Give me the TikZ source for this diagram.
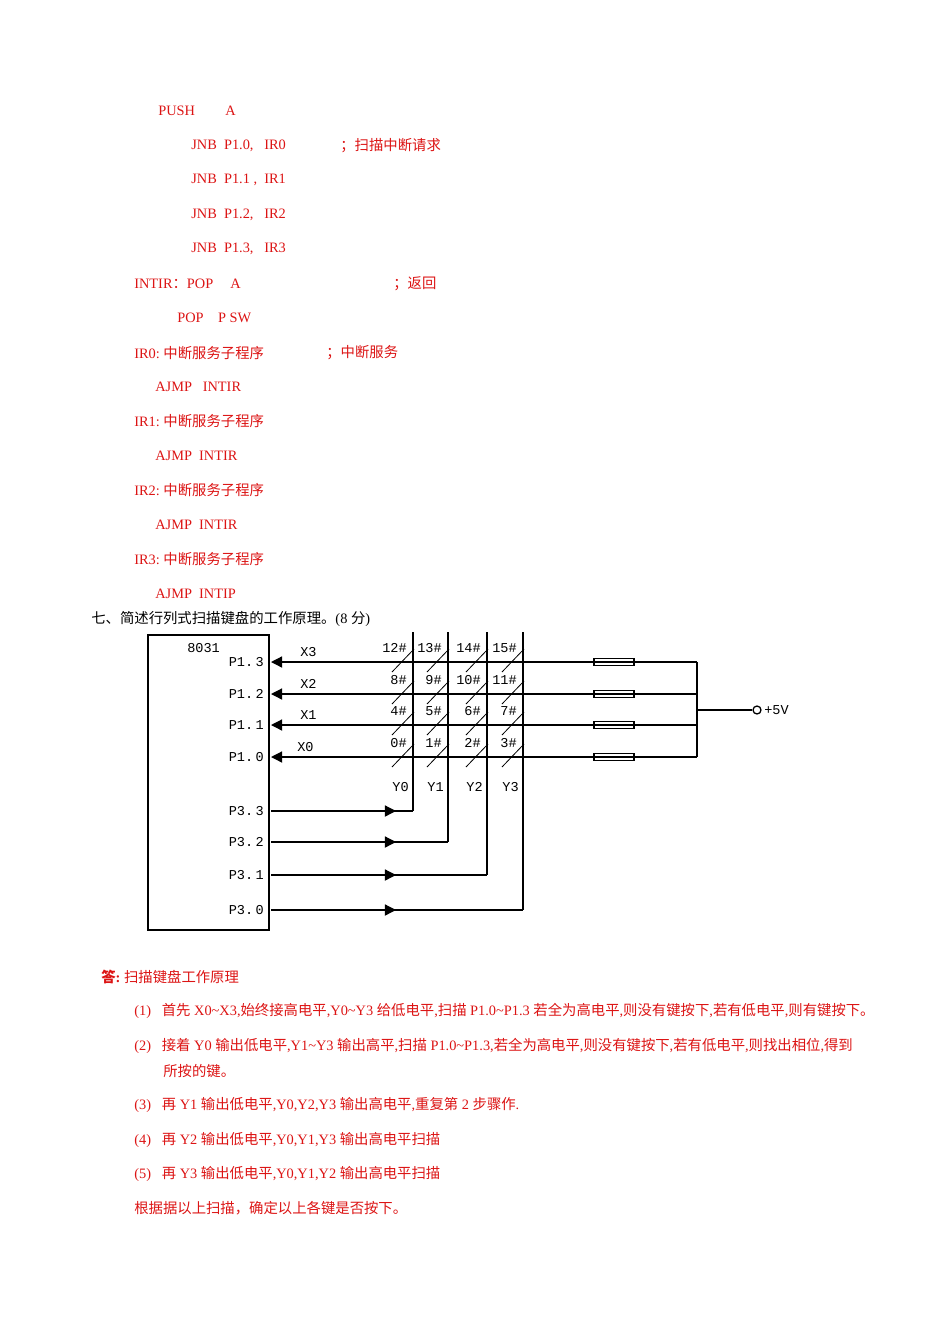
\documentclass[tikz,border=0pt]{standalone}
\usepackage{fontspec}
\setmainfont{Liberation Serif}
\newfontfamily\cjk{Noto Sans CJK SC}
\newfontfamily\mono{Liberation Mono}
\usetikzlibrary{arrows.meta}
\definecolor{rd}{RGB}{220,20,20}
\begin{document}
\begin{tikzpicture}[x=0.6266pt,y=-0.6266pt,
  t/.style={anchor=west,inner sep=0,font=\fontsize{9}{11}\selectfont,text=rd},
  tb/.style={t,text=black},
  m/.style={inner sep=0,font=\mono\fontsize{8.5}{9}\selectfont},
  w/.style={line width=0.8pt},
  ar/.style={w,-{Triangle[length=7pt,width=7pt]}},
  res/.style={draw,w,minimum width=25pt,minimum height=4pt,inner sep=0,fill=white}]
\useasboundingbox (0,0) rectangle (950,1344);
% code
\node[t] (l1) at (158,111) {PUSH};\node[t] (l1b) at (225,111) {A};
\node[t] (l2) at (191,146) {JNB\ \ P1.0,\ \ \ IR0};\node[t] (c2) at (340,146) {\cjk ；扫描中断请求};
\node[t] (l3) at (191,180) {JNB\ \ P1.1 ,\ \ IR1};
\node[t] (l4) at (191,215) {JNB\ \ P1.2,\ \ \ IR2};
\node[t] (l5) at (191,249) {JNB\ \ P1.3,\ \ \ IR3};
\node[t] (l6) at (134,284) {INTIR{\cjk ：}POP};\node[t] (l6b) at (230,284) {A};\node[t] (c6) at (393,284) {\cjk ；返回};
\node[t] (l7) at (177,318) {POP\ \ \ \ P SW};
\node[t] (l8) at (134,353) {IR0:\ {\cjk 中断服务子程序}};\node[t] (c8) at (326,353) {\cjk ；中断服务};
\node[t] (l9) at (155,387) {AJMP\ \ \ INTIR};
\node[t] (l10) at (134,421) {IR1:\ {\cjk 中断服务子程序}};
\node[t] (l11) at (155,456) {AJMP\ \ INTIR};
\node[t] (l12) at (134,490) {IR2:\ {\cjk 中断服务子程序}};
\node[t] (l13) at (155,525) {AJMP\ \ INTIR};
\node[t] (l14) at (134,559) {IR3:\ {\cjk 中断服务子程序}};
\node[t] (l15) at (155,594) {AJMP\ \ INTIP};
\node[tb] (q7) at (91,619) {{\cjk 七、简述行列式扫描键盘的工作原理。}(8 {\cjk 分})};
% answer
\node[t] (ans) at (101,977) {{\cjk\bfseries 答}\textbf{:}\ {\cjk 扫描键盘工作原理}};
\node[t] (a1) at (134,1011) {(1)\ \ \ {\cjk 首先} X0\textasciitilde X3,{\cjk 始终接高电平},Y0\textasciitilde Y3 {\cjk 给低电平},{\cjk 扫描} P1.0\textasciitilde P1.3 {\cjk 若全为高电平},{\cjk 则没有键按下},{\cjk 若有低电平},{\cjk 则有键按下。}};
\node[t] (a2) at (134,1046) {(2)\ \ \ {\cjk 接着} Y0 {\cjk 输出低电平},Y1\textasciitilde Y3 {\cjk 输出高平},{\cjk 扫描} P1.0\textasciitilde P1.3,{\cjk 若全为高电平},{\cjk 则没有键按下},{\cjk 若有低电平},{\cjk 则找出相位},{\cjk 得到}};
\node[t] (a2b) at (163,1071) {\cjk 所按的键。};
\node[t] (a3) at (134,1105) {(3)\ \ \ {\cjk 再} Y1 {\cjk 输出低电平},Y0,Y2,Y3 {\cjk 输出高电平},{\cjk 重复第} 2 {\cjk 步骤作}.};
\node[t] (a4) at (134,1140) {(4)\ \ \ {\cjk 再} Y2 {\cjk 输出低电平},Y0,Y1,Y3 {\cjk 输出高电平扫描}};
\node[t] (a5) at (134,1174) {(5)\ \ \ {\cjk 再} Y3 {\cjk 输出低电平},Y0,Y1,Y2 {\cjk 输出高电平扫描}};
\node[t] (a6) at (134,1208) {\cjk 根据据以上扫描，确定以上各键是否按下。};
% circuit
\draw[w] (148,635) rectangle (269,930);
\node[m,anchor=west] (chip) at (187,648) {8031};
\foreach \n/\y/\lab/\xl in {3/662/X3/300,2/694/X2/300,1/725/X1/300,0/757/X0/297}{
  \node[m,anchor=east] (p1\n) at (264,\y) {P1.\,\n};
  \coordinate (pin\n) at (271,\y);
  \coordinate (bus\n) at (697,\y);
  \node[res] (r\n) at (614,\y) {};
  \draw[ar] (bus\n) -- (pin\n);
  \node[m,anchor=west] (xl\n) at (\xl,\y-10) {\lab};
}
\draw[w] (bus3) -- (bus0);
\coordinate (v) at (697,710);
\node[draw,circle,inner sep=0,minimum size=5pt,w] (vc) at (757,710) {};
\draw[w] (v) -- (vc);
\node[m,anchor=west] (vl) at (764,710) {+5V};
% columns
\foreach \c/\x/\yb/\pin in {0/413/811/3,1/448/842/2,2/487/875/1,3/523/910/0}{
  \coordinate (ct\c) at (\x,632);
  \coordinate (cb\c) at (\x,\yb);
  \draw[w] (ct\c) -- (cb\c);
  \node[m,anchor=east] (p3\pin) at (264,\yb) {P3.\,\pin};
  \coordinate (q\pin) at (271,\yb);
  \draw[w] (q\pin) -- (cb\c);
  \draw[w,-{Triangle[length=7pt,width=7pt]}] (q\pin) -- (396,\yb);
  \node[m,anchor=east] (yl\c) at (\x-4,787) {Y\c};
}
\foreach \r/\y in {3/662,2/694,1/725,0/757}{
  \foreach \c/\x in {0/413,1/448,2/487,3/523}{
    \pgfmathtruncatemacro\k{4*\r+\c}
    \draw[line width=0.5pt] (\x-21,\y+10) -- (\x+1,\y-13);
    \node[m,anchor=east] (k\k) at (\x-6,\y-14) {\k\#};
  }
}
\end{tikzpicture}
\end{document}
